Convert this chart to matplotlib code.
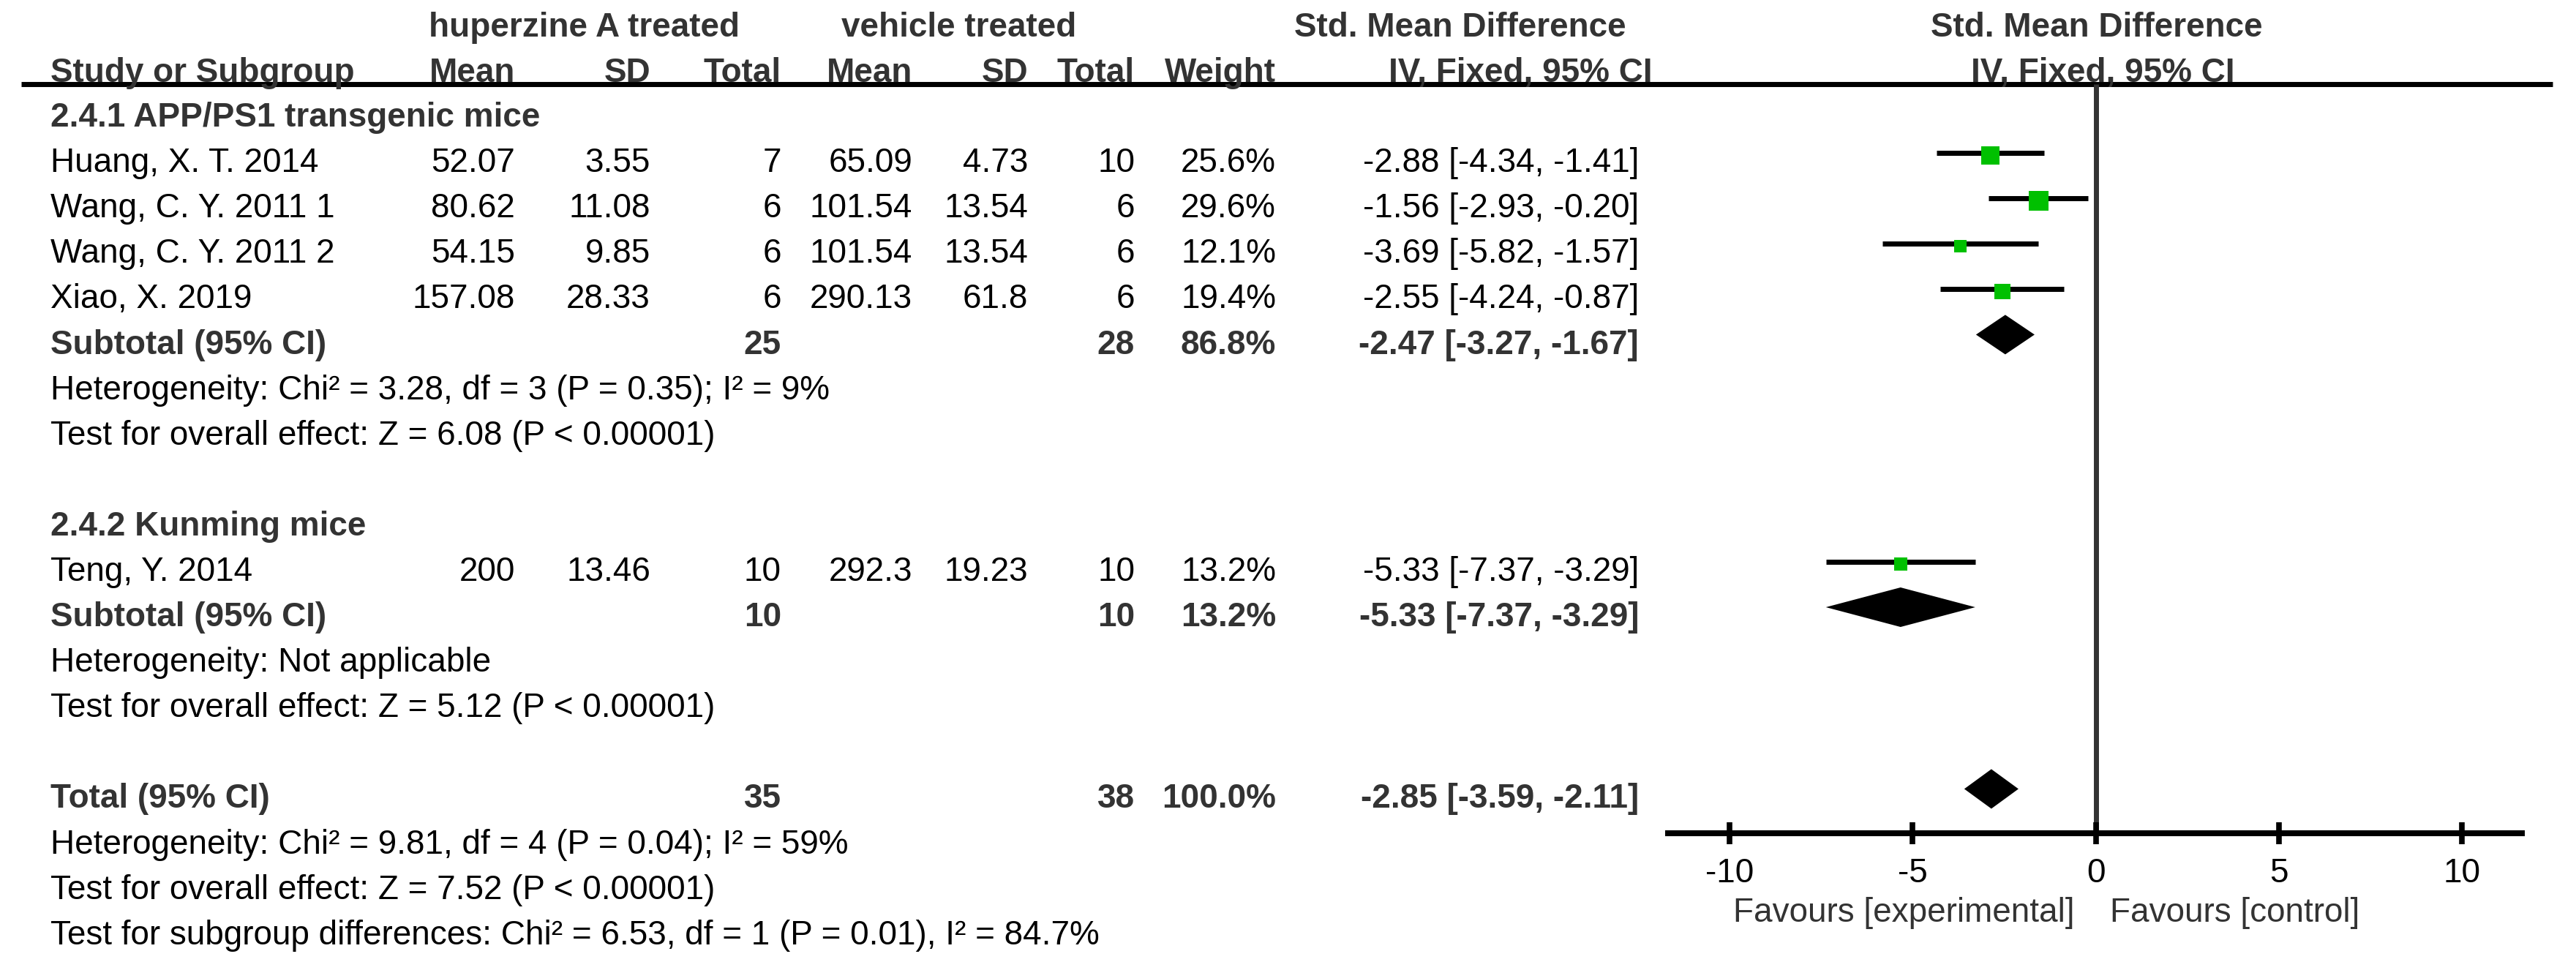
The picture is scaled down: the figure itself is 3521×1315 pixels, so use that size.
import matplotlib as mpl
mpl.use('Agg')
import matplotlib.pyplot as plt
import numpy as np

plt.rcParams['font.family'] = ['Liberation Sans', 'DejaVu Sans']
plt.rcParams['axes.unicode_minus'] = False

# study level data
studies = ["Huang, X. T. 2014", "Wang, C. Y. 2011 1", "Wang, C. Y. 2011 2", "Xiao, X. 2019", "Teng, Y. 2014"]
study_group = [0, 0, 0, 0, 1]
exp_mean = [52.07, 80.62, 54.15, 157.08, 200]
exp_sd = [3.55, 11.08, 9.85, 28.33, 13.46]
exp_n = [7, 6, 6, 6, 10]
ctl_mean = [65.09, 101.54, 101.54, 290.13, 292.3]
ctl_sd = [4.73, 13.54, 13.54, 61.8, 19.23]
ctl_n = [10, 6, 6, 6, 10]
weight = [25.6, 29.6, 12.1, 19.4, 13.2]
smd = [-2.88, -1.56, -3.69, -2.55, -5.33]
ci_lo = [-4.34, -2.93, -5.82, -4.24, -7.37]
ci_hi = [-1.41, -0.20, -1.57, -0.87, -3.29]

# subgroup data
groups = ["2.4.1 APP/PS1 transgenic mice", "2.4.2 Kunming mice"]
sub_exp_n = [25, 10]
sub_ctl_n = [28, 10]
sub_weight = [86.8, 13.2]
sub_smd = [-2.47, -5.33]
sub_lo = [-3.27, -7.37]
sub_hi = [-1.67, -3.29]
sub_het = ["Heterogeneity: Chi² = 3.28, df = 3 (P = 0.35); I² = 9%",
           "Heterogeneity: Not applicable"]
sub_effect = ["Test for overall effect: Z = 6.08 (P < 0.00001)",
              "Test for overall effect: Z = 5.12 (P < 0.00001)"]

# overall
tot_exp_n = 35
tot_ctl_n = 38
tot_weight = 100.0
tot_smd = -2.85
tot_lo = -3.59
tot_hi = -2.11
tot_notes = ["Heterogeneity: Chi² = 9.81, df = 4 (P = 0.04); I² = 59%",
             "Test for overall effect: Z = 7.52 (P < 0.00001)",
             "Test for subgroup differences: Chi² = 6.53, df = 1 (P = 0.01), I² = 84.7%"]

x_ticks = [-10, -5, 0, 5, 10]
x_range = (-11.68, 11.64)

# layout (pixels across, text rows down)
W, H = 3521, 1315
row0, row_h = 173, 62.1
fs = 33
grey = '#333333'
col_label = 69
col_right = {'em': 704, 'es': 889, 'en': 1068, 'cm': 1247, 'cs': 1405, 'cn': 1551,
             'w': 1744, 'ci': 2240}

fig = plt.figure(figsize=(W / 100, H / 100), dpi=100)
ax = fig.add_axes([0, 0, 1, 1])
ax.set_xlim(0, W)
ax.set_ylim((H - row0) / row_h, -row0 / row_h)
ax.axis('off')

fx = fig.add_axes([2280 / W, 0, 1167 / W, 1])
fx.set_xlim(*x_range)
fx.set_ylim(ax.get_ylim())
fx.patch.set_visible(False)


def txt(x, r, s, ha='left', bold=False, **kw):
    ax.text(x, r, s, ha=ha, va='baseline', fontsize=fs,
            fontweight='bold' if bold else 'normal',
            color=grey if bold else 'black', **kw)


def ci_str(m, lo, hi):
    return f"{m:.2f} [{lo:.2f}, {hi:.2f}]"


# headers
hdr1 = -1.98
hdr2 = -0.98
line_r = -0.934
txt(798, hdr1, "huperzine A treated", ha='center', bold=True)
txt(1311, hdr1, "vehicle treated", ha='center', bold=True)
txt(1996, hdr1, "Std. Mean Difference", ha='center', bold=True)
txt(2866, hdr1, "Std. Mean Difference", ha='center', bold=True)
txt(col_label, hdr2, "Study or Subgroup", bold=True)
for key, name in [('em', 'Mean'), ('es', 'SD'), ('en', 'Total'),
                  ('cm', 'Mean'), ('cs', 'SD'), ('cn', 'Total'), ('w', 'Weight')]:
    txt(col_right[key], hdr2, name, ha='right', bold=True)
txt(2259, hdr2, "IV, Fixed, 95% CI", ha='right', bold=True)
txt(2874, hdr2, "IV, Fixed, 95% CI", ha='center', bold=True)
ax.hlines(line_r, 29, 3489, color='black', lw=5)

# rows
group_start = [0, 9]
study_rows = []
sub_rows = []
for g, start in enumerate(group_start):
    txt(col_label, start, groups[g], bold=True)
    r = start + 1
    for i in range(len(studies)):
        if study_group[i] != g:
            continue
        txt(col_label, r, studies[i])
        txt(col_right['em'], r, f"{exp_mean[i]:g}", ha='right')
        txt(col_right['es'], r, f"{exp_sd[i]:g}", ha='right')
        txt(col_right['en'], r, str(exp_n[i]), ha='right')
        txt(col_right['cm'], r, f"{ctl_mean[i]:g}", ha='right')
        txt(col_right['cs'], r, f"{ctl_sd[i]:g}", ha='right')
        txt(col_right['cn'], r, str(ctl_n[i]), ha='right')
        txt(col_right['w'], r, f"{weight[i]:.1f}%", ha='right')
        txt(col_right['ci'], r, ci_str(smd[i], ci_lo[i], ci_hi[i]), ha='right')
        study_rows.append(r)
        r += 1
    txt(col_label, r, "Subtotal (95% CI)", bold=True)
    txt(col_right['en'], r, str(sub_exp_n[g]), ha='right', bold=True)
    txt(col_right['cn'], r, str(sub_ctl_n[g]), ha='right', bold=True)
    txt(col_right['w'], r, f"{sub_weight[g]:.1f}%", ha='right', bold=True)
    txt(col_right['ci'], r, ci_str(sub_smd[g], sub_lo[g], sub_hi[g]), ha='right', bold=True)
    sub_rows.append(r)
    txt(col_label, r + 1, sub_het[g])
    txt(col_label, r + 2, sub_effect[g])

tot_row = 15
txt(col_label, tot_row, "Total (95% CI)", bold=True)
txt(col_right['en'], tot_row, str(tot_exp_n), ha='right', bold=True)
txt(col_right['cn'], tot_row, str(tot_ctl_n), ha='right', bold=True)
txt(col_right['w'], tot_row, f"{tot_weight:.1f}%", ha='right', bold=True)
txt(col_right['ci'], tot_row, ci_str(tot_smd, tot_lo, tot_hi), ha='right', bold=True)
for k, note in enumerate(tot_notes):
    txt(col_label, tot_row + 1 + k, note)

# forest plot
axis_r = 15.556
study_rows = np.array(study_rows)
fx.vlines(0, line_r, axis_r, color=grey, lw=5, zorder=1)
fx.hlines(study_rows - 0.42, ci_lo, ci_hi, color='black', lw=5, zorder=2)
fx.scatter(smd, study_rows - 0.37, s=12.45 * np.array(weight), marker='s',
           color='#00c000', linewidths=0, zorder=3)

dh = 0.435
for r, m, lo, hi in list(zip(sub_rows, sub_smd, sub_lo, sub_hi)) + [(tot_row, tot_smd, tot_lo, tot_hi)]:
    yc = r - 0.42
    fx.fill([lo, m, hi, m], [yc, yc - dh, yc, yc + dh], color='black', lw=0, zorder=3)

for side in ['top', 'left', 'right']:
    fx.spines[side].set_visible(False)
fx.spines['bottom'].set_position(('data', axis_r))
fx.spines['bottom'].set_linewidth(5.8)
fx.set_yticks([])
fx.set_xticks(x_ticks)
fx.set_xticklabels([str(t) for t in x_ticks])
fx.tick_params(axis='x', direction='inout', length=22, width=5.5, pad=13,
               labelsize=fs, colors='black')

fx.text(-0.57, 17.5, "Favours [experimental]", ha='right', va='baseline', fontsize=fs, color=grey)
fx.text(0.39, 17.5, "Favours [control]", ha='left', va='baseline', fontsize=fs, color=grey)

fig.savefig('out.png', dpi=100, facecolor='white')
plt.close(fig)
